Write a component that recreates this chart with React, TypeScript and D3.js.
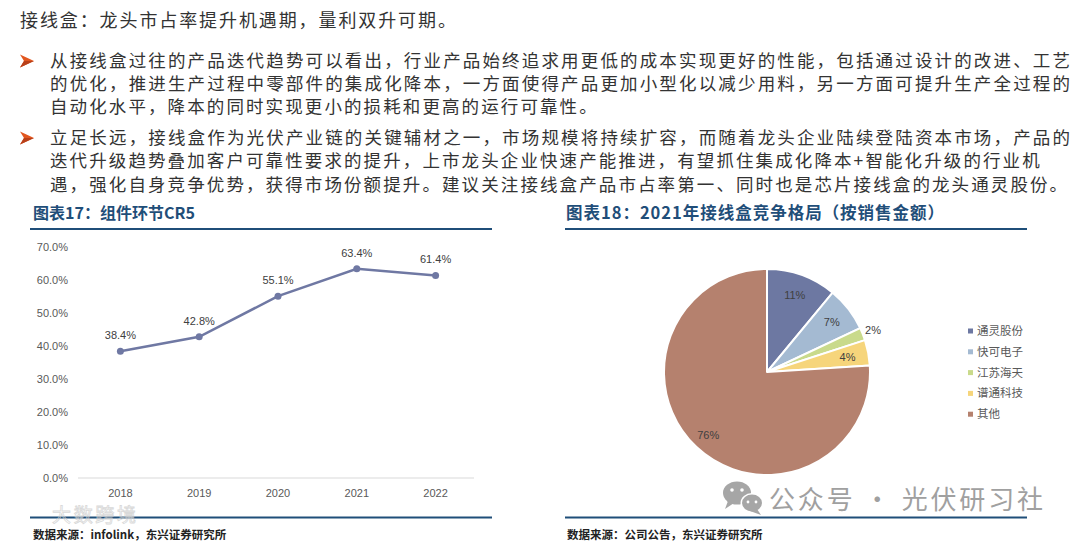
import { scaleBand, scaleLinear, line as d3_line, pie as d3_pie, arc as d3_arc, format } from "d3";

// ---- data ----
const years = ["2018", "2019", "2020", "2021", "2022"];
const cr5 = [0.384, 0.428, 0.551, 0.634, 0.614];
const yTicks = [0, 0.1, 0.2, 0.3, 0.4, 0.5, 0.6, 0.7];

const companies = ["通灵股份", "快可电子", "江苏海天", "谱通科技", "其他"];
const shares = [11, 7, 2, 4, 76];
const pieColors = ["#6D78A2", "#A4BAD2", "#C9DA8B", "#F6D57B", "#B5816E"];

const heading = "接线盒：龙头市占率提升机遇期，量利双升可期。";
const bullet1 = [
  "从接线盒过往的产品迭代趋势可以看出，行业产品始终追求用更低的成本实现更好的性能，包括通过设计的改进、工艺",
  "的优化，推进生产过程中零部件的集成化降本，一方面使得产品更加小型化以减少用料，另一方面可提升生产全过程的",
  "自动化水平，降本的同时实现更小的损耗和更高的运行可靠性。",
];
const bullet2 = [
  "立足长远，接线盒作为光伏产业链的关键辅材之一，市场规模将持续扩容，而随着龙头企业陆续登陆资本市场，产品的",
  "迭代升级趋势叠加客户可靠性要求的提升，上市龙头企业快速产能推进，有望抓住集成化降本+智能化升级的行业机",
  "遇，强化自身竞争优势，获得市场份额提升。建议关注接线盒产品市占率第一、同时也是芯片接线盒的龙头通灵股份。",
];
// which body lines are justified to the full width
const justify1 = [true, true, false];
const justify2 = [true, false, false];

const title17 = "图表17：组件环节CR5";
const title18 = "图表18：2021年接线盒竞争格局（按销售金额）";
const source17 = "数据来源：infolink，东兴证券研究所";
const source18 = "数据来源：公司公告，东兴证券研究所";

const CJK = "'Noto Sans CJK SC', 'Noto Sans', sans-serif";
const ARIAL = "'Liberation Sans', Arial, sans-serif";
const BLUE = "#1F4E79";

function Arrow({ y }: { y: number }) {
  return (
    <g transform={`translate(20,${y})`}>
      <path d="M0,-6.5 L14,0 L0,6.5 L4,0 Z" fill="#E2561F" />
      <path d="M4,0 L14,0 L0,6.5 Z" fill="#B8401A" />
    </g>
  );
}

function LineChart() {
  const x = scaleBand<string>().domain(years).range([81, 475]);
  const y = scaleLinear().domain([0, 0.7]).range([478, 247]);
  const cx = (i: number) => (x(years[i]) as number) + x.bandwidth() / 2;
  const path = d3_line<number>()
    .x((_, i) => cx(i))
    .y((d) => y(d))(cr5);
  const pct = format(".1%");
  return (
    <g>
      {yTicks.map((t) => (
        <text key={t} x={68} y={y(t) + 4} textAnchor="end" fontFamily={ARIAL} fontSize={11} fill="#595959">
          {pct(t)}
        </text>
      ))}
      <line x1={78} x2={474} y1={y(0)} y2={y(0)} stroke="#D9D9D9" strokeWidth={1} />
      {years.map((yr) => (
        <text key={yr} x={(x(yr) as number) + x.bandwidth() / 2} y={497} textAnchor="middle" fontFamily={ARIAL} fontSize={11} fill="#595959">
          {yr}
        </text>
      ))}
      <path d={path ?? ""} fill="none" stroke="#6F78A3" strokeWidth={2.5} />
      {cr5.map((v, i) => (
        <g key={i}>
          <circle cx={cx(i)} cy={y(v)} r={3.5} fill="#6F78A3" />
          <text x={cx(i)} y={y(v) - 12} textAnchor="middle" fontFamily={ARIAL} fontSize={11} fill="#404040">
            {pct(v)}
          </text>
        </g>
      ))}
    </g>
  );
}

function PieChart() {
  const R = 103;
  const arcs = d3_pie<number>().sort(null).value((d) => d)(shares);
  const arc = d3_arc<any>().innerRadius(0).outerRadius(R);
  const labelArc = (r: number) => d3_arc<any>().innerRadius(r).outerRadius(r);
  return (
    <g>
      <g transform="translate(767,372)">
        {arcs.map((a, i) => (
          <path key={i} d={arc(a) ?? ""} fill={pieColors[i]} stroke="#fff" strokeWidth={2} strokeLinejoin="round" />
        ))}
        {arcs.map((a, i) => {
          const small = shares[i] < 3;
          const [lx, ly] = labelArc(small ? 114 : shares[i] > 50 ? 86 : 82).centroid(a);
          return (
            <text key={i} x={lx} y={ly + 4} textAnchor="middle" fontFamily={ARIAL} fontSize={11} fill="#404040">
              {shares[i]}%
            </text>
          );
        })}
      </g>
      {companies.map((c, i) => (
        <g key={c} transform={`translate(968,${331 + i * 20.8})`}>
          <rect x={0} y={-2.5} width={5} height={5} fill={pieColors[i]} />
          <text x={9} y={4} fontFamily={CJK} fontSize={11.5} fill="#595959">
            {c}
          </text>
        </g>
      ))}
    </g>
  );
}

function WeChatMark() {
  return (
    <g>
      <g fill="#A6A6A6">
        <ellipse cx={737} cy={493} rx={14} ry={11.5} />
        <path d="M728,501 L725,509 L734,503 Z" />
        <ellipse cx={752} cy={503} rx={11.5} ry={10} fill="#fff" />
        <ellipse cx={752} cy={503} rx={10} ry={8.5} />
        <path d="M757,509 L761,515 L750,511 Z" />
      </g>
      <g fill="#fff">
        <circle cx={732} cy={490} r={1.8} />
        <circle cx={742} cy={490} r={1.8} />
        <circle cx={748} cy={502} r={1.4} />
        <circle cx={756} cy={502} r={1.4} />
      </g>
      <text x={769} y={509} fontFamily={CJK} fontSize={26} fill="#A0A0A0" textLength={274} lengthAdjust="spacing">
        公众号 · 光伏研习社
      </text>
    </g>
  );
}

export default function App() {
  const bodyLine = (t: string, y: number, just: boolean) => (
    <text
      key={t}
      x={50}
      y={y}
      fontFamily={CJK}
      fontSize={17.5}
      fill="#333333"
      letterSpacing={just ? undefined : 2.1}
      textLength={just ? 1020 : undefined}
      lengthAdjust="spacing"
    >
      {t}
    </text>
  );
  return (
    <svg width={1080} height={544} style={{ position: "absolute", left: 0, top: 0, background: "#fff" }}>
      <rect width={1080} height={544} fill="#fff" />
      <text x={20} y={27} fontFamily={CJK} fontSize={18} fill="#333333" letterSpacing={1.9}>
        {heading}
      </text>

      <Arrow y={61} />
      {bullet1.map((t, i) => bodyLine(t, 67 + i * 23.2, justify1[i]))}
      <Arrow y={138} />
      {bullet2.map((t, i) => bodyLine(t, 144 + i * 23.4, justify2[i]))}

      {/* left panel */}
      <text x={33} y={219} fontFamily={CJK} fontSize={16} fontWeight={700} fill={BLUE} textLength={162} lengthAdjust="spacingAndGlyphs">
        {title17}
      </text>
      <line x1={30} x2={492} y1={229} y2={229} stroke={BLUE} strokeWidth={2} />
      <LineChart />
      <line x1={30} x2={492} y1={517.5} y2={517.5} stroke={BLUE} strokeWidth={2} />
      <text x={33} y={539} fontFamily={CJK} fontSize={11.5} fontWeight={700} fill="#222">
        {source17}
      </text>
      <text x={52} y={522} fontFamily={CJK} fontSize={19} fill="none" stroke="#D0D0D0" strokeWidth={0.8} opacity={0.8} textLength={84}>
        大数跨境
      </text>

      {/* right panel */}
      <text x={566} y={219} fontFamily={CJK} fontSize={16.5} fontWeight={700} fill={BLUE} textLength={378} lengthAdjust="spacing">
        {title18}
      </text>
      <line x1={565} x2={1027} y1={229} y2={229} stroke={BLUE} strokeWidth={2} />
      <PieChart />
      <WeChatMark />
      <line x1={565} x2={1027} y1={517.5} y2={517.5} stroke={BLUE} strokeWidth={2} />
      <text x={567} y={539} fontFamily={CJK} fontSize={11.5} fontWeight={700} fill="#222">
        {source18}
      </text>
    </svg>
  );
}
